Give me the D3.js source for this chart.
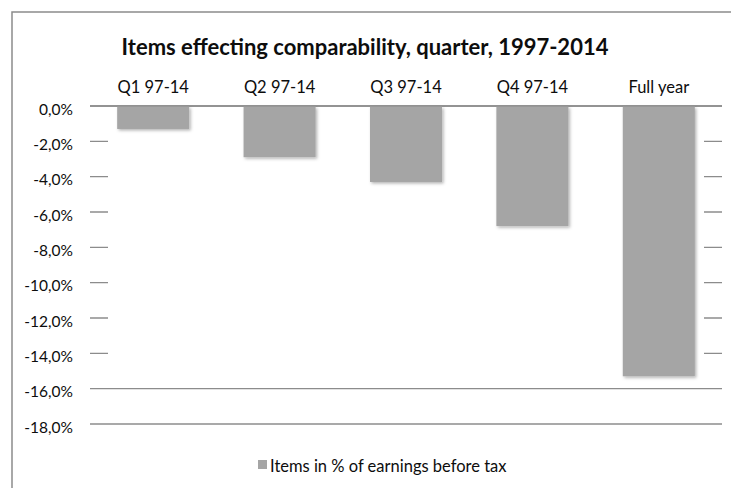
<!DOCTYPE html>
<html>
<head>
<meta charset="utf-8">
<script src="https://cdn.jsdelivr.net/npm/d3@7"></script>
<style>
  html, body { margin: 0; padding: 0; background: #fff; overflow: hidden; width: 731px; height: 488px; }
  svg { display: block; overflow: hidden; font-family: Lato, "Open Sans", sans-serif; }
</style>
</head>
<body>
<svg id="chart" width="731" height="488"></svg>
<script>
// Items affecting comparability as a share of earnings before tax
const categories = ["Q1 97-14", "Q2 97-14", "Q3 97-14", "Q4 97-14", "Full year"];
const values = [-1.3, -2.9, -4.3, -6.8, -15.3];
const yTicks = [0, -2, -4, -6, -8, -10, -12, -14, -16, -18];
const seriesName = "Items in % of earnings before tax";
const titleText = "Items effecting comparability, quarter, 1997-2014";

const W = 731, H = 488;
const plot = { left: 90, right: 722, top: 106, bottom: 424 };
const grey = "#8c8c8c";
const barColor = "#a5a5a5";
const textColor = "#0d0d0d";

const svg = d3.select("#chart");

svg.append("rect").attr("width", W).attr("height", H).attr("fill", "#fff");

const defs = svg.append("defs");
const shadow = defs.append("filter").attr("id", "barShadow")
  .attr("x", "-10%").attr("y", "-10%").attr("width", "130%").attr("height", "130%");
shadow.append("feDropShadow")
  .attr("dx", 1.5).attr("dy", 1.5).attr("stdDeviation", 1.4)
  .attr("flood-color", "#000").attr("flood-opacity", 0.3);

// outer chart frame (its right and bottom edges fall outside the view)
svg.append("path")
  .attr("d", `M12,${H}V12H${W}`)
  .attr("fill", "none").attr("stroke", grey).attr("stroke-width", 1.5);

const x = d3.scaleBand()
  .domain(categories)
  .range([plot.left, plot.right])
  .paddingInner(0.43)
  .paddingOuter(0.215);

const y = d3.scaleLinear()
  .domain([-18, 0])
  .range([plot.bottom, plot.top]);

// horizontal gridlines
svg.append("g")
  .selectAll("line")
  .data(yTicks)
  .join("line")
  .attr("x1", plot.left).attr("x2", plot.right)
  .attr("y1", d => y(d)).attr("y2", d => y(d))
  .attr("stroke", grey).attr("stroke-width", 1.3);

// inner plot area (white) hides the gridlines between the stubs
const inset = 18;
svg.append("rect")
  .attr("x", plot.left + inset)
  .attr("y", y(0) + 1)
  .attr("width", plot.right - plot.left - 2 * inset)
  .attr("height", y(-15.8) - y(0) - 1)
  .attr("fill", "#fff");

// zero line
svg.append("line")
  .attr("x1", plot.left).attr("x2", plot.right)
  .attr("y1", y(0)).attr("y2", y(0))
  .attr("stroke", grey).attr("stroke-width", 1.3);

// bars
svg.append("g")
  .selectAll("rect")
  .data(values)
  .join("rect")
  .attr("x", (d, i) => x(categories[i]))
  .attr("width", x.bandwidth())
  .attr("y", d => y(0) + 0.7)
  .attr("height", d => y(d) - y(0) - 0.7)
  .attr("fill", barColor)
  .attr("filter", "url(#barShadow)");

// y-axis labels
const fmt = v => d3.format(".1f")(v).replace(".", ",").replace("−", "-") + "%";
svg.append("g")
  .selectAll("text")
  .data(yTicks)
  .join("text")
  .attr("x", 73)
  .attr("y", d => y(d) + 8.5)
  .attr("text-anchor", "end")
  .attr("font-size", 15.5)
  .attr("fill", textColor)
  .text(fmt);

// category labels across the top
const xAxis = svg.append("g")
  .attr("transform", `translate(0,${plot.top - 13})`)
  .call(d3.axisTop(x).tickSize(0).tickPadding(0));
xAxis.select(".domain").remove();
xAxis.selectAll("text")
  .attr("font-family", "Lato, 'Open Sans', sans-serif")
  .attr("font-size", 16.5)
  .attr("fill", textColor)
  .attr("dy", 0);

// title
svg.append("text")
  .attr("x", 365)
  .attr("y", 55)
  .attr("text-anchor", "middle")
  .attr("font-size", 22)
  .attr("font-weight", "bold")
  .attr("fill", textColor)
  .text(titleText);

// legend
const legend = svg.append("g").attr("transform", "translate(258,460)");
legend.append("rect").attr("width", 9).attr("height", 9).attr("fill", barColor);
legend.append("text")
  .attr("x", 12).attr("y", 11.5)
  .attr("font-size", 16.5)
  .attr("fill", textColor)
  .text(seriesName);
</script>
</body>
</html>
